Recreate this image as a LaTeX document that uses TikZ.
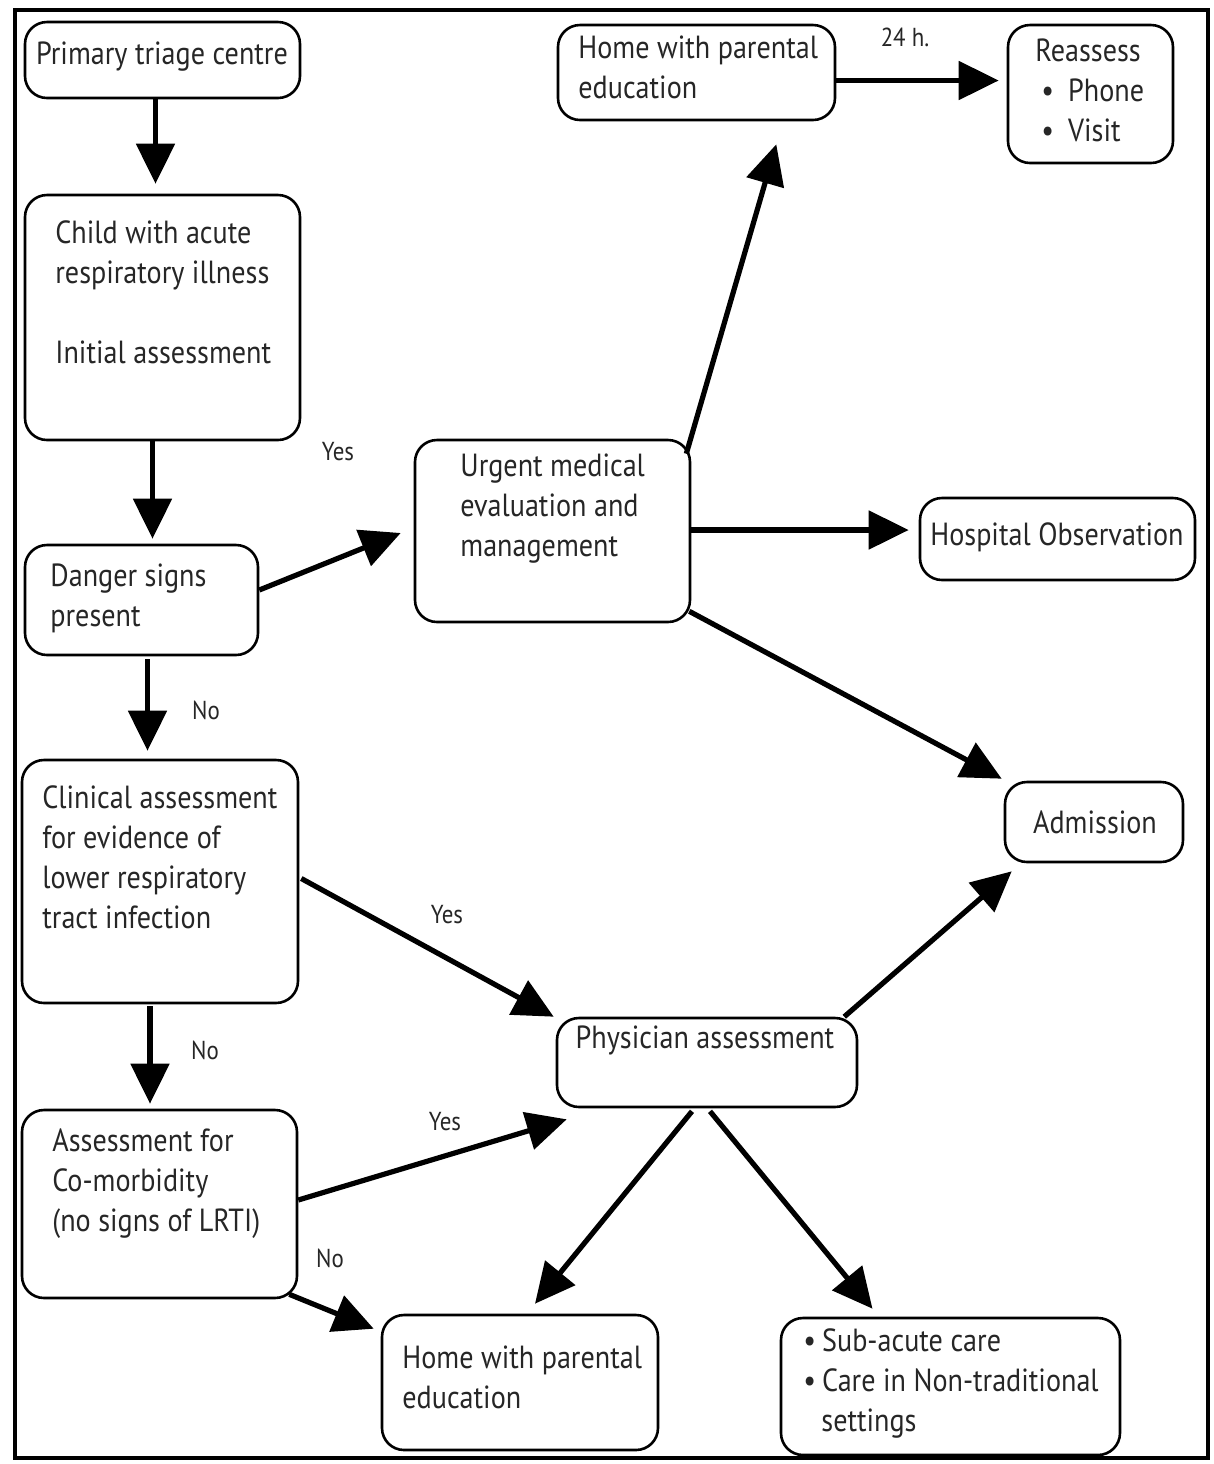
\documentclass[tikz,border=0pt]{standalone}
\usepackage{fontspec}
\setmainfont{PT Sans}[FakeStretch=0.88]
\usetikzlibrary{arrows.meta}
\begin{document}
\begin{tikzpicture}[x=0.5pt,y=-0.5pt,
  box/.style={draw=black, line width=1.3pt, rounded corners=11pt, inner sep=0pt},
  txt/.style={inner sep=0pt, align=left, text=black!85, font=\fontsize{16}{20}\selectfont},
  lbl/.style={inner sep=0pt, text=black!85, font=\fontsize{13}{16}\selectfont},
  arr/.style={line width=2.6pt, -{Triangle[length=20pt,width=19pt]}}]
\useasboundingbox (0,0) rectangle (1214,1464);
\draw[line width=2pt] (15,10) rectangle (1208,1458);

% boxes
\node[box, minimum width=137.5pt, minimum height=38pt] (triage) at (162.5,60) {};
\node[box, minimum width=137.5pt, minimum height=122.5pt] (child) at (162.5,317.5) {};
\node[box, minimum width=116.5pt, minimum height=55pt] (danger) at (141.5,600) {};
\node[box, minimum width=138pt, minimum height=121.5pt] (clin) at (160,881.5) {};
\node[box, minimum width=137.5pt, minimum height=94pt] (comorb) at (159.5,1204) {};
\node[box, minimum width=137.5pt, minimum height=91pt] (urgent) at (552.5,531) {};
\node[box, minimum width=138.5pt, minimum height=47.5pt] (hometop) at (696.5,72.5) {};
\node[box, minimum width=82.5pt, minimum height=69pt] (reassess) at (1090.5,94) {};
\node[box, minimum width=137.5pt, minimum height=41pt] (hosp) at (1057.5,539) {};
\node[box, minimum width=89pt, minimum height=40pt] (adm) at (1094,822) {};
\node[box, minimum width=150pt, minimum height=44.5pt] (phys) at (707,1062.5) {};
\node[box, minimum width=138pt, minimum height=67.5pt] (homebot) at (520,1382.5) {};
\node[box, minimum width=169.5pt, minimum height=68.5pt] (sub) at (950.5,1386.5) {};

% texts
\node[txt] (t-triage) at (162,57) {Primary triage centre};
\node[txt, anchor=north west] (t-child) at (55,220) {Child with acute\\respiratory illness\\[20pt]Initial assessment};
\node[txt, anchor=north west] (t-danger) at (50,563) {Danger signs\\present};
\node[txt, anchor=north west] (t-clin) at (42,785) {Clinical assessment\\for evidence of\\lower respiratory\\tract infection};
\node[txt, anchor=north west] (t-comorb) at (52,1128) {Assessment for\\Co-morbidity\\(no signs of LRTI)};
\node[txt, anchor=north west] (t-urgent) at (460,453) {Urgent medical\\evaluation and\\management};
\node[txt, anchor=north west] (t-hometop) at (578,35) {Home with parental\\education};
\node[txt, anchor=north west] (t-reassess) at (1035,38) {Reassess\\\hspace*{3pt}•\hspace{7pt}Phone\\\hspace*{3pt}•\hspace{7pt}Visit};
\node[txt] (t-hosp) at (1057,537) {Hospital Observation};
\node[txt] (t-adm) at (1095,822) {Admission};
\node[txt] (t-phys) at (705,1040) {Physician assessment};
\node[txt, anchor=north west] (t-homebot) at (402,1345) {Home with parental\\education};
\node[txt, anchor=north west] (t-sub) at (803,1328) {•\hspace{3pt}Sub-acute care\\•\hspace{3pt}Care in Non-traditional\\\hspace*{9pt}settings};

% labels
\node[lbl] (l-yes1) at (338,452) {Yes};
\node[lbl] (l-no1) at (206,710) {No};
\node[lbl] (l-yes2) at (447,915) {Yes};
\node[lbl] (l-no2) at (205,1050) {No};
\node[lbl] (l-yes3) at (445,1122) {Yes};
\node[lbl] (l-no3) at (330,1258) {No};
\node[lbl] (l-24) at (905,37) {24 h.};

% arrows
\draw[arr] ([xshift=-3.5pt]triage.south) -- ([xshift=-3.5pt,yshift=5pt]triage.south |- child.north);
\draw[arr] ([xshift=-5pt]child.south) -- ([xshift=-5pt,yshift=2.5pt]child.south |- danger.north);
\draw[arr] ([xshift=3pt,yshift=-1.5pt]danger.south) -- ([xshift=3pt,yshift=4pt]danger.south |- clin.north);
\draw[arr] ([xshift=-5pt,yshift=-1pt]clin.south) -- ([xshift=-5pt,yshift=2.5pt]clin.south |- comorb.north);
\draw[arr] ([yshift=5pt]danger.east) -- ([xshift=-6.5pt,yshift=-1pt]urgent.west);
\draw[arr] ([xshift=-2.5pt,yshift=-7.5pt]urgent.north east) -- ([xshift=-30pt,yshift=-11.5pt]hometop.south east);
\draw[arr] ([yshift=-4pt]hometop.east) -- ([yshift=-4pt,xshift=-4pt]hometop.east -| reassess.west);
\draw[arr] ([yshift=0.5pt]urgent.east) -- ([yshift=0.5pt,xshift=-5pt]urgent.east -| hosp.west);
\draw[arr] ([yshift=6pt,xshift=-1pt]urgent.south east) -- ([xshift=-1pt,yshift=1pt]adm.north west);
\draw[arr] ([yshift=1.5pt,xshift=1pt]clin.east) -- ([xshift=-1pt]phys.north west);
\draw[arr] ([yshift=2pt]comorb.east) -- ([xshift=5.5pt,yshift=-5.5pt]phys.south west);
\draw[arr] ([xshift=-4.5pt,yshift=2.5pt]comorb.south east) -- ([xshift=-3.5pt,yshift=-7.5pt]homebot.north west);
\draw[arr] ([xshift=-7pt]phys.north east) -- ([xshift=4pt,yshift=-4pt]adm.south west);
\draw[arr] ([xshift=-7.5pt,yshift=-1.5pt]phys.south) -- ([xshift=7.5pt,yshift=5pt]homebot.north);
\draw[arr] ([xshift=1.5pt,yshift=-1.5pt]phys.south) -- ([xshift=-39pt,yshift=4pt]sub.north);
\end{tikzpicture}
\end{document}
